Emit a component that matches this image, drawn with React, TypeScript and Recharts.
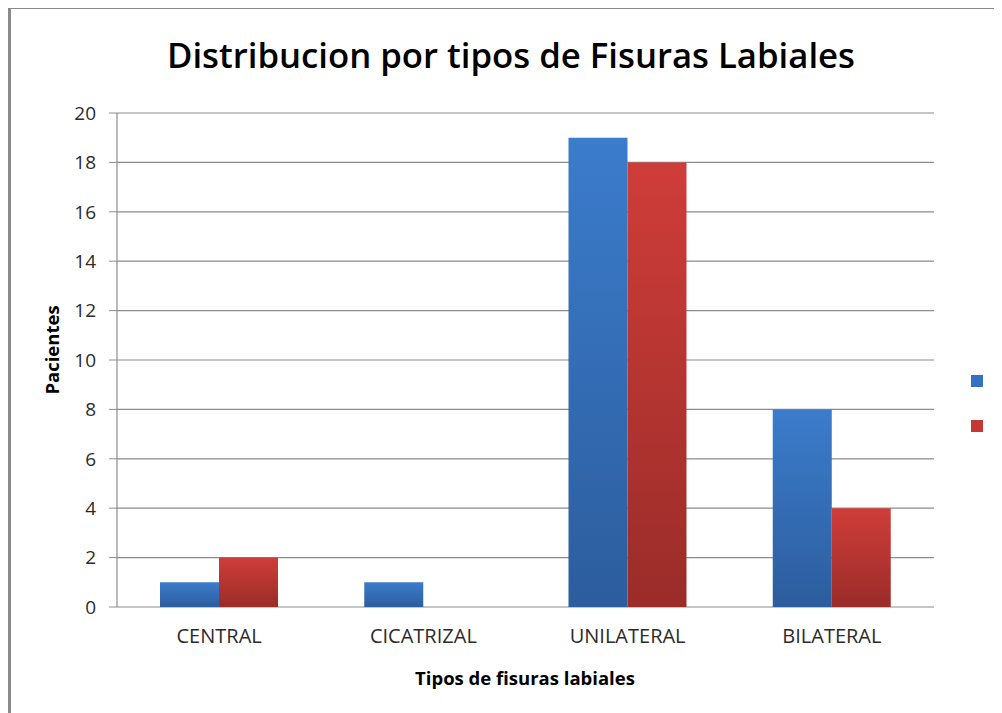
import React from "react";
import { BarChart, Bar, XAxis, YAxis, CartesianGrid } from "recharts";

const categories = ["CENTRAL", "CICATRIZAL", "UNILATERAL", "BILATERAL"];
const serie1 = [1, 1, 19, 8];
const serie2 = [2, 0, 18, 4];
const yTicks = [0, 2, 4, 6, 8, 10, 12, 14, 16, 18, 20];
const bandEdges = [0, 1, 2, 3, 4];

const title = "Distribucion por tipos de Fisuras Labiales";
const xTitle = "Tipos de fisuras labiales";
const yTitle = "Pacientes";

const seriesDefs = [
  { key: "s1", name: "Serie 1", fill: "url(#gBlue)", swatch: "#3471c0" },
  { key: "s2", name: "Serie 2", fill: "url(#gRed)", swatch: "#c33834" },
];

const data = categories.map((c, i) => ({ cat: c, s1: serie1[i], s2: serie2[i] }));

const W = 994;
const H = 705;
const FONT = "'Open Sans', 'Liberation Sans', sans-serif";

export default function App() {
  return (
    <div style={{ position: "relative", width: W, height: H, fontFamily: FONT }}>
      <div
        style={{
          position: "absolute",
          left: 0,
          top: -1,
          width: W,
          height: H + 1,
          borderTop: "2px solid #8a8a8a",
          borderLeft: "3px solid #8a8a8a",
          boxSizing: "border-box",
        }}
      />
      <BarChart
        width={W}
        height={H}
        data={data}
        margin={{ top: 105, right: 68, bottom: 0, left: 0 }}
        barGap={0}
        barSize={59}
      >
        <defs>
          <linearGradient id="gBlue" x1="0" y1="0" x2="0" y2="1">
            <stop offset="0%" stopColor="#3b7ccc" />
            <stop offset="100%" stopColor="#2c5d9d" />
          </linearGradient>
          <linearGradient id="gRed" x1="0" y1="0" x2="0" y2="1">
            <stop offset="0%" stopColor="#cf3d39" />
            <stop offset="100%" stopColor="#9a2c29" />
          </linearGradient>
        </defs>
        <CartesianGrid vertical={false} stroke="#8c8c8c" strokeWidth={1.2} />
        <XAxis
          xAxisId="edges"
          type="number"
          domain={[0, 4]}
          ticks={bandEdges}
          allowDataOverflow
          height={0}
          tick={false}
          tickSize={7}
          tickLine={{ stroke: "#8c8c8c" }}
          axisLine={{ stroke: "#8c8c8c", strokeWidth: 1.2 }}
        />
        <XAxis
          dataKey="cat"
          height={106}
          axisLine={false}
          tickLine={false}
          tickSize={0}
          tickMargin={22}
          tick={{ fill: "#2b2b2b", fontSize: 20, fontFamily: FONT }}
          interval={0}
        />
        <YAxis
          domain={[0, 20]}
          ticks={yTicks}
          width={109}
          tickSize={8}
          tickMargin={13}
          tickLine={{ stroke: "#8c8c8c" }}
          axisLine={{ stroke: "#8c8c8c", strokeWidth: 1.2 }}
          tick={{ fill: "#2b2b2b", fontSize: 19, fontFamily: FONT }}
        />
        {seriesDefs.map((s) => (
          <Bar key={s.key} dataKey={s.key} name={s.name} fill={s.fill} isAnimationActive={false} />
        ))}
      </BarChart>
      <svg
        width={W}
        height={H}
        style={{ position: "absolute", left: 0, top: 0, pointerEvents: "none" }}
      >
        <text
          x={503}
          y={60}
          textAnchor="middle"
          fontFamily={FONT}
          fontWeight={600}
          fontSize={35}
          fill="#000"
          textLength={688}
          lengthAdjust="spacingAndGlyphs"
        >
          {title}
        </text>
        <text
          x={517}
          y={677}
          textAnchor="middle"
          fontFamily={FONT}
          fontWeight="bold"
          fontSize={18.5}
          fill="#000"
        >
          {xTitle}
        </text>
        <text
          transform="translate(51,342) rotate(-90)"
          textAnchor="middle"
          fontFamily={FONT}
          fontWeight="bold"
          fontSize={18.5}
          fill="#000"
        >
          {yTitle}
        </text>
      </svg>
      <div style={{ position: "absolute", left: 963, top: 367 }}>
        {seriesDefs.map((s, i) => (
          <div
            key={s.key}
            title={s.name}
            style={{
              position: "absolute",
              left: 0,
              top: i * 45,
              width: 12,
              height: 12,
              background: s.swatch,
            }}
          />
        ))}
      </div>
    </div>
  );
}
